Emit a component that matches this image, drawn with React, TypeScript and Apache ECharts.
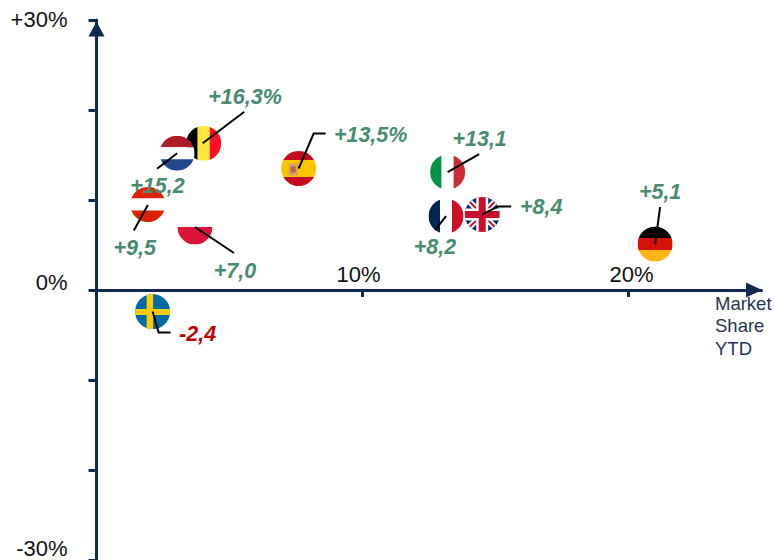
import React, { useEffect, useRef } from "react";
import * as echarts from "echarts";

const countries = ["BE", "NL", "AT", "PL", "ES", "IT", "FR", "UK", "DE", "SE"];
const marketShare = [4.03, 3.03, 1.93, 3.7, 7.6, 13.2, 13.14, 14.5, 21.0, 2.11];
const growth = [16.3, 15.2, 9.5, 7.0, 13.5, 13.1, 8.2, 8.4, 5.1, -2.4];
const pointLabels = ["+16,3%", "+15,2", "+9,5", "+7,0", "+13,5%", "+13,1", "+8,2", "+8,4", "+5,1", "-2,4"];

const xTicks = [10, 20];
const yTicks = [-30, -20, -10, 0, 10, 20, 30];
const yLabels = [0, 30];
const yBottomLabels = [-30];
const axisTitle = "Market\nShare\nYTD";

const NAVY = "#0F2A4E";
const GREEN = "#4A8A70";
const RED = "#C00000";
const R = 17.5;
const FONT = '"Liberation Sans", Arial, sans-serif';

// pixel offsets of annotations, relative to the flag centre
const leaders: Record<string, number[][]> = {
  BE: [[-1, 0], [40.6, -31.5]],
  NL: [[0, 0], [-20, 15.5]],
  AT: [[0, 0.5], [-14, 26]],
  PL: [[0, 0], [39, 26]],
  ES: [[0, 0], [15, -35], [27, -35]],
  IT: [[0, 0], [31.5, -18]],
  FR: [[-11, 14], [0, 0]],
  UK: [[0, 0], [16, -8], [29, -8]],
  DE: [[0, 0], [5, -37]],
  SE: [[0, 0], [6, 21], [18, 21]],
};
const labelOffsets: Record<string, number[]> = {
  BE: [41.3, -46.5],
  NL: [-19.7, 33],
  AT: [-13.2, 43.5],
  PL: [40, 44],
  ES: [72, -33.5],
  IT: [32, -33],
  FR: [-11, 30.5],
  UK: [59, -7],
  DE: [5, -52],
  SE: [45, 22.5],
};

const rect = (x: number, y: number, width: number, height: number, fill: string) => ({
  type: "rect",
  shape: { x, y, width, height },
  style: { fill },
  silent: true,
});
const hBands = (rows: [number, number, string][]) => rows.map(([a, b, c]) => rect(-R, a, 2 * R, b - a, c));
const vBands = (cols: [number, number, string][]) => cols.map(([a, b, c]) => rect(a, -R, b - a, 2 * R, c));
const seg = (x1: number, y1: number, x2: number, y2: number, stroke: string, lineWidth: number) => ({
  type: "line",
  shape: { x1, y1, x2, y2 },
  style: { stroke, lineWidth, fill: "none" },
  silent: true,
});

const flagParts: Record<string, any[]> = {
  BE: vBands([[-R, -6, "#000000"], [-6, 6, "#FFE936"], [6, R, "#FF0F21"]]),
  NL: hBands([[-R, -6, "#AE1C28"], [-6, 6, "#FFFFFF"], [6, R, "#21468B"]]),
  AT: hBands([[-R, -6, "#DD2200"], [-6, 6, "#FFFFFF"], [6, R, "#DD2200"]]),
  PL: hBands([[-R, 0, "#FFFFFF"], [0, R, "#DC143C"]]),
  ES: [
    ...hBands([[-R, -8.5, "#C60B1E"], [-8.5, 8.5, "#FFC400"], [8.5, R, "#C60B1E"]]),
    rect(-10, -5, 9, 12, "#D2A25E"),
    rect(-8, -2, 5, 6, "#C0614A"),
  ],
  IT: vBands([[-R, -6, "#009246"], [-6, 6, "#FFFFFF"], [6, R, "#CE2B37"]]),
  FR: vBands([[-R, -6, "#002654"], [-6, 6, "#FFFFFF"], [6, R, "#CE1126"]]),
  UK: [
    rect(-R, -R, 2 * R, 2 * R, "#012169"),
    seg(-R, -R, R, R, "#FFFFFF", 6),
    seg(-R, R, R, -R, "#FFFFFF", 6),
    seg(-R, -R, R, R, "#C8102E", 2),
    seg(-R, R, R, -R, "#C8102E", 2),
    rect(-R, -6, 2 * R, 12, "#FFFFFF"),
    rect(-6, -R, 12, 2 * R, "#FFFFFF"),
    rect(-R, -3.5, 2 * R, 7, "#C8102E"),
    rect(-3.5, -R, 7, 2 * R, "#C8102E"),
  ],
  DE: hBands([[-R, -6, "#000000"], [-6, 6, "#D4130A"], [6, R, "#FFB612"]]),
  SE: [
    rect(-R, -R, 2 * R, 2 * R, "#006AA7"),
    rect(-R, -2.5, 2 * R, 6, "#FECC00"),
    rect(-6, -R, 6.5, 2 * R, "#FECC00"),
  ],
};

const seriesData = marketShare.map((x, i) => [x, growth[i]]);

const option: any = {
  animation: false,
  backgroundColor: "#FFFFFF",
  grid: { left: 96.5, right: 12.5, top: 20, bottom: 0, containLabel: false, outerBoundsMode: "none" },
  xAxis: {
    type: "value",
    min: 0,
    max: 25,
    offset: -270,
    splitLine: { show: false },
    axisLine: {
      show: true,
      onZero: false,
      lineStyle: { color: NAVY, width: 3 },
      symbol: ["none", "triangle"],
      symbolSize: [15, 16],
      symbolOffset: [0, -7.5],
    },
    axisTick: { show: true, customValues: xTicks, length: 7, lineStyle: { color: NAVY, width: 3 } },
    axisLabel: {
      inside: true,
      customValues: xTicks,
      margin: 5,
      color: "#111111",
      fontFamily: FONT,
      fontSize: 22,
      formatter: (v: number) => `{${v === 10 ? "a" : "b"}|${v}%}`,
      rich: {
        a: { fontFamily: FONT, fontSize: 22, color: "#111111", padding: [0, 8, 0, 0] },
        b: { fontFamily: FONT, fontSize: 22, color: "#111111", padding: [0, 0, 0, 6] },
      },
    },
  },
  yAxis: [
    {
      type: "value",
      min: -30,
      max: 30,
      splitLine: { show: false },
      axisLine: {
        show: true,
        onZero: false,
        lineStyle: { color: NAVY, width: 3 },
        symbol: ["none", "triangle"],
        symbolSize: [16, 15],
        symbolOffset: [0, -9],
      },
      axisTick: { show: true, customValues: yTicks, length: 8, lineStyle: { color: NAVY, width: 3 } },
      axisLabel: {
        customValues: yLabels,
        margin: 29,
        color: "#111111",
        fontFamily: FONT,
        fontSize: 22,
        formatter: (v: number) => (v === 30 ? "{a|+30%}" : "{b|0%}"),
        rich: {
          a: { fontFamily: FONT, fontSize: 22, color: "#111111", padding: [0, 0, 2, 0] },
          b: { fontFamily: FONT, fontSize: 22, color: "#111111", padding: [0, 0, 16, 0] },
        },
      },
    },
    {
      type: "value",
      min: -30,
      max: 30,
      position: "left",
      splitLine: { show: false },
      axisLine: { show: false, onZero: false },
      axisTick: { show: false },
      axisLabel: {
        customValues: yBottomLabels,
        margin: 29,
        color: "#111111",
        fontFamily: FONT,
        fontSize: 22,
        lineHeight: 23,
        verticalAlign: "bottom",
        formatter: (v: number) => `${v}%`,
      },
    },
  ],
  graphic: [
    {
      type: "text",
      x: 715,
      y: 292,
      style: {
        text: axisTitle,
        fontFamily: FONT,
        fontSize: 18.5,
        lineHeight: 22.5,
        fill: "#1F3552",
      },
    },
  ],
  series: [
    {
      type: "custom",
      name: "flags",
      coordinateSystem: "cartesian2d",
      clip: false,
      z: 3,
      encode: { x: 0, y: 1 },
      data: seriesData,
      renderItem: (params: any, api: any) => {
        const p = api.coord([api.value(0), api.value(1)]);
        return {
          type: "group",
          x: p[0],
          y: p[1],
          clipPath: { type: "circle", shape: { cx: 0, cy: 0, r: R } },
          children: flagParts[countries[params.dataIndex]],
        };
      },
    },
    {
      type: "custom",
      name: "annotations",
      coordinateSystem: "cartesian2d",
      clip: false,
      z: 4,
      encode: { x: 0, y: 1 },
      data: seriesData,
      renderItem: (params: any, api: any) => {
        const p = api.coord([api.value(0), api.value(1)]);
        const key = countries[params.dataIndex];
        const off = labelOffsets[key];
        return {
          type: "group",
          x: p[0],
          y: p[1],
          children: [
            {
              type: "polyline",
              shape: { points: leaders[key] },
              style: { stroke: "#000000", lineWidth: 2, fill: "none" },
              silent: true,
            },
            {
              type: "text",
              x: off[0],
              y: off[1],
              silent: true,
              style: {
                text: pointLabels[params.dataIndex],
                fontFamily: FONT,
                fontSize: 21.5,
                fontWeight: "bold",
                fontStyle: "italic",
                fill: growth[params.dataIndex] < 0 ? RED : GREEN,
                align: "center",
                verticalAlign: "middle",
              },
            },
          ],
        };
      },
    },
  ],
};

export default function App() {
  const ref = useRef<HTMLDivElement>(null);
  useEffect(() => {
    document.body.style.margin = "0";
    const chart = echarts.init(ref.current!, undefined, { renderer: "svg" });
    chart.setOption(option);
    return () => chart.dispose();
  }, []);
  return <div ref={ref} style={{ width: 774, height: 560 }} />;
}
